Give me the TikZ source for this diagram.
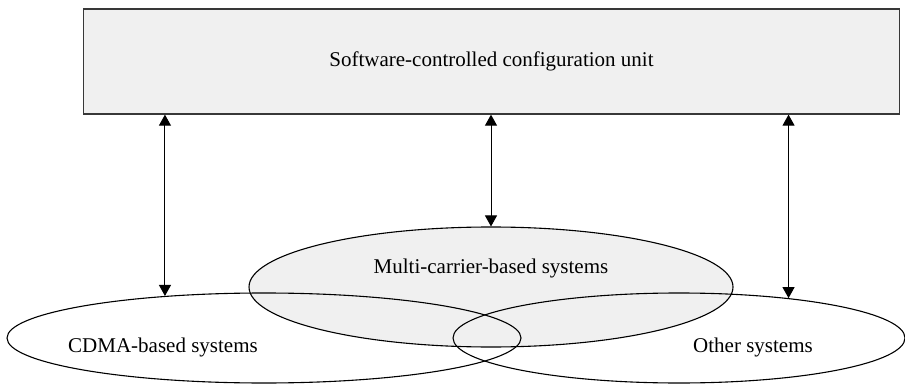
\documentclass[tikz,border=0pt]{standalone}
\usepackage{fontspec}
\setmainfont{Liberation Serif}
\usetikzlibrary{shapes.geometric,arrows.meta}
\definecolor{boxgray}{HTML}{F0F0F0}
\definecolor{edgegray}{HTML}{383838}
\begin{document}
\begin{tikzpicture}[x=1pt,y=-1pt,
  lbl/.style={font=\fontsize{21}{24}\selectfont, inner sep=0pt},
  sys/.style={ellipse, draw, line width=1.1pt, inner sep=0pt},
  link/.style={{Triangle[length=11pt,width=12pt]}-{Triangle[length=11pt,width=12pt]}, line width=1pt}]
\useasboundingbox (0,0) rectangle (905,385);
\node[draw=edgegray, fill=boxgray, line width=1.3pt, minimum width=816pt, minimum height=105pt, inner sep=0pt] (unit) at (491.5,61.5) {};
\node[lbl] (unittext) at (unit.center) {Software-controlled configuration unit};
\node[sys, fill=boxgray, minimum width=484pt, minimum height=120pt] (multi) at (491,287) {};
\node[sys, minimum width=514pt, minimum height=90pt] (cdma) at (264,338) {};
\node[sys, minimum width=452pt, minimum height=90pt] (other) at (679,338) {};
\node[lbl] (multitext) at (491,268) {Multi-carrier-based systems};
\node[lbl] (cdmatext) at (163,347) {CDMA-based systems};
\node[lbl] (othertext) at (753,347) {Other systems};
\draw[link] (unit.south -| cdma.157) -- (cdma.157);
\draw[link] (unit.south -| multi.north) -- (multi.north);
\draw[link] (unit.south -| other.20) -- (other.20);
\end{tikzpicture}
\end{document}
